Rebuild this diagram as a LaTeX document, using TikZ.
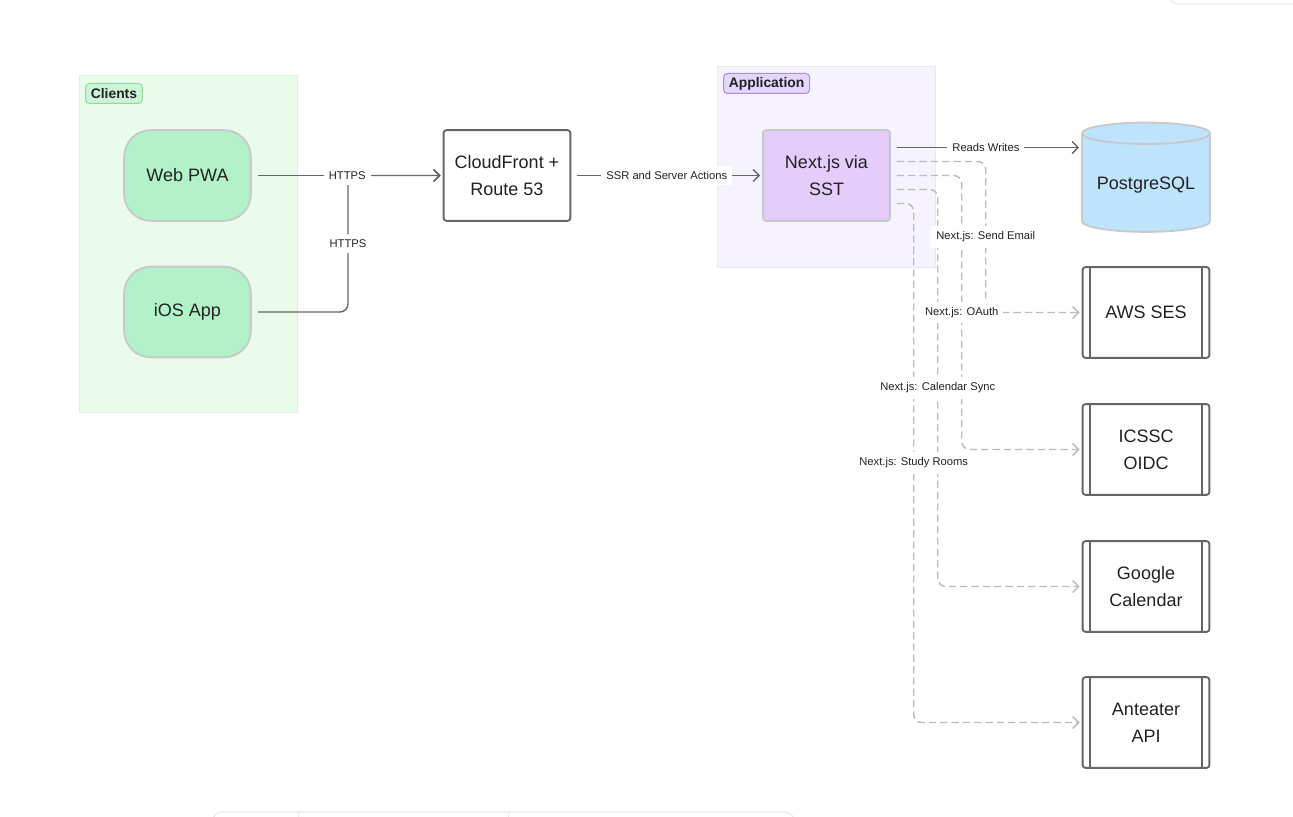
\documentclass[tikz,border=0pt]{standalone}
\usepackage{fontspec}
\setmainfont{Liberation Sans}
\usetikzlibrary{arrows.meta,positioning,shapes.geometric,calc}
\definecolor{ink}{HTML}{222222}
\definecolor{edgegray}{HTML}{666666}
\definecolor{dashgray}{HTML}{BBBBBB}
\definecolor{boxline}{HTML}{C9C9C9}
\definecolor{clientbg}{HTML}{E9FCEC}
\definecolor{clientline}{HTML}{D6F5DC}
\definecolor{clienttag}{HTML}{CDF4D6}
\definecolor{clienttagline}{HTML}{8CDB9F}
\definecolor{clientfill}{HTML}{B1F2C8}
\definecolor{appbg}{HTML}{F6F3FF}
\definecolor{appline}{HTML}{ECE6FC}
\definecolor{apptag}{HTML}{E4D6FC}
\definecolor{apptagline}{HTML}{A98BF5}
\definecolor{appfill}{HTML}{E4CDFA}
\definecolor{dbfill}{HTML}{BEE3FC}
\tikzset{
  groupbox/.style={draw=#1line,fill=#1bg,line width=0.6pt,anchor=north west,
                   inner sep=0pt},
  tagbox/.style={draw=#1tagline,fill=#1tag,line width=0.75pt,rounded corners=3pt,
                 anchor=north west,inner xsep=4pt,inner ysep=0pt,minimum height=15pt,
                 font=\fontsize{10.4}{12}\selectfont\bfseries,text=ink},
  clientnode/.style={draw=boxline,fill=clientfill,line width=1.4pt,rounded corners=20pt,
                     minimum width=95pt,minimum height=68pt,align=center,
                     font=\fontsize{13.5}{20}\selectfont,text=ink},
  plainnode/.style={draw=edgegray,fill=white,line width=1.4pt,rounded corners=2pt,
                    minimum width=95pt,minimum height=68pt,align=center,
                    font=\fontsize{13.5}{20}\selectfont,text=ink},
  appnode/.style={plainnode,draw=boxline,fill=appfill},
  extsvc/.style={plainnode},
  dbnode/.style={cylinder,shape border rotate=90,aspect=0.2,draw=boxline,fill=dbfill,
                 line width=1.4pt,minimum width=96pt,minimum height=82pt,
                 font=\fontsize{13.5}{20}\selectfont,text=ink},
  lbl/.style={fill=white,inner xsep=3.75pt,inner ysep=4pt,
              font=\fontsize{8.4}{10}\selectfont,text=ink},
  link/.style={draw=edgegray,line width=1.1pt,shorten <=4.5pt,shorten >=1.5pt,
               -{Straight Barb[length=4.5pt,width=9pt]}},
  dlink/.style={link,draw=dashgray,dash pattern=on 5.5pt off 3pt,rounded corners=6pt}
}
\begin{document}
\begin{tikzpicture}[x=0.75pt,y=-0.75pt]
  \path[use as bounding box] (0,0) rectangle (1293,817);
  % editor chrome at the edges
  \draw[black!9,line width=0.8pt,rounded corners=8pt] (1168,-12) |- (1310,4);
  \draw[black!9,line width=0.8pt,rounded corners=8pt] (212,830) |- (795,812) -- (795,830);
  \draw[black!9,line width=0.6pt] (298,812) -- (298,830) (508,812) -- (508,830);

  % groups
  \node[groupbox=client,minimum width=163.5pt,minimum height=252.75pt] (clients) at (79,75) {};
  \node[tagbox=client] (clientstag) at (85,83) {Clients};
  \node[groupbox=app,minimum width=163.5pt,minimum height=150.75pt] (app) at (717,66) {};
  \node[tagbox=app] (apptag) at (723,73) {Application};

  % nodes
  \node[clientnode] (web) at (187.5,175.5) {Web PWA};
  \node[clientnode] (ios) at (187.5,312) {iOS App};
  \node[plainnode] (cf) at (507,175.5) {CloudFront +\\Route 53};
  \node[appnode] (next) at (826.5,175.5) {Next.js via\\SST};
  \node[dbnode] (pg) at (1146,185) {PostgreSQL};
  \node[extsvc] (ses) at (1146,312.5) {AWS SES};
  \node[extsvc] (oidc) at (1146,449.5) {ICSSC\\OIDC};
  \node[extsvc] (gcal) at (1146,586.5) {Google\\Calendar};
  \node[extsvc] (api) at (1146,722.5) {Anteater\\API};
  \foreach \n in {ses,oidc,gcal,api}
    \draw[edgegray,line width=1.4pt]
      ([xshift=6pt]\n.north west) -- ([xshift=6pt]\n.south west)
      ([xshift=-6pt]\n.north east) -- ([xshift=-6pt]\n.south east);

  % solid connectors
  \coordinate (merge) at (348,175.5);
  \coordinate (rw) at ($(next.east)+(0,-28)$);
  \draw[link,rounded corners=6pt] (ios.east) -| node[lbl,pos=0.75] {HTTPS} (merge) -- (cf.west);
  \draw[link] (web.east) -- node[lbl] {HTTPS} (cf.west);
  \draw[link] (cf.east) -- node[lbl] {SSR and Server Actions} (next.west);
  \draw[link] (rw) -- node[lbl] {Reads Writes} (rw -| pg.west);

  % dashed connectors to the outside services
  \draw[dlink] ($(next.east)+(0,-14)$) -| coordinate[pos=0.75] (lses)
    ($(ses.west)+(-96,0)$) -- (ses.west);
  \draw[dlink] (next.east) -| coordinate[pos=0.75] (loidc)
    ($(oidc.west)+(-120,0)$) -- (oidc.west);
  \draw[dlink] ($(next.east)+(0,14)$) -| coordinate[pos=0.75] (lgcal)
    ($(gcal.west)+(-144,0)$) -- (gcal.west);
  \draw[dlink] ($(next.east)+(0,28)$) -| coordinate[pos=0.75] (lapi)
    ($(api.west)+(-168,0)$) -- (api.west);
  \node[lbl] (tses) at (lses) {Next.js: Send Email};
  \node[lbl] (toidc) at (loidc) {Next.js: OAuth};
  \node[lbl] (tgcal) at (lgcal) {Next.js: Calendar Sync};
  \node[lbl] (tapi) at (lapi) {Next.js: Study Rooms};
\end{tikzpicture}
\end{document}
